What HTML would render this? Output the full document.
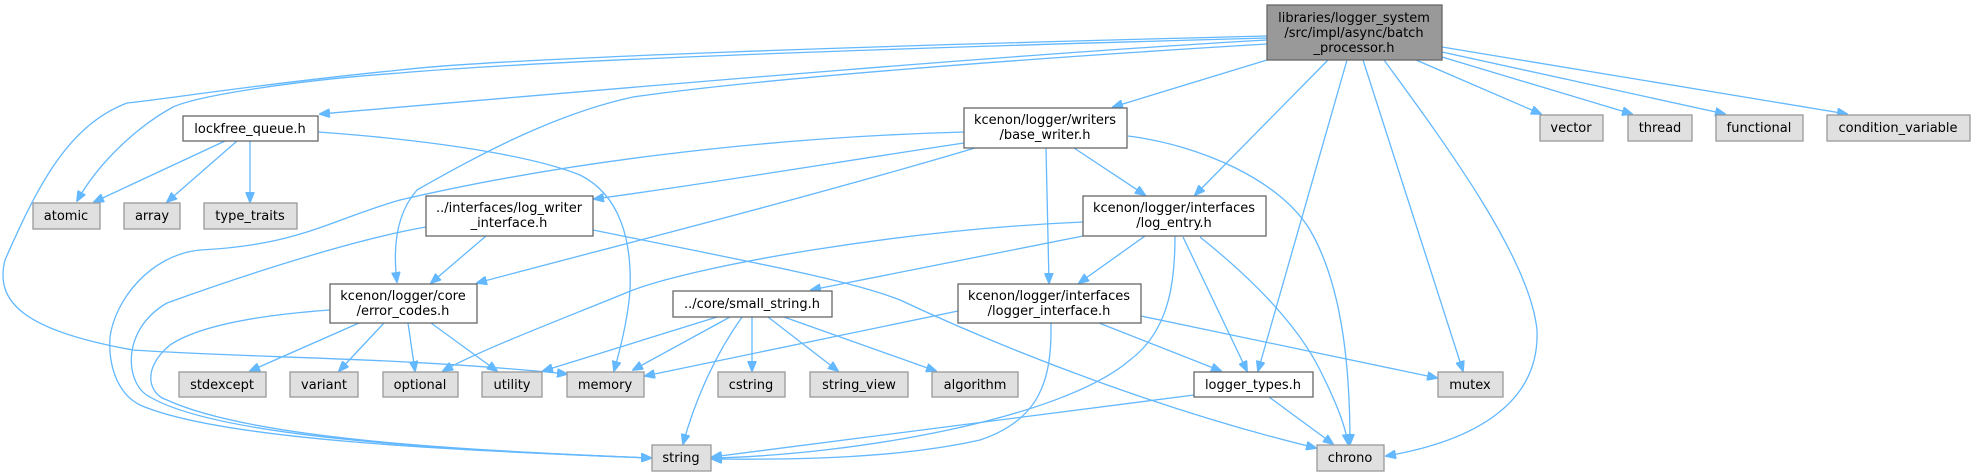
<!DOCTYPE html>
<html><head><meta charset="utf-8"><style>
html,body{margin:0;padding:0;background:#fff;}
svg{display:block;}
text{font-family:"DejaVu Sans","Liberation Sans",sans-serif;font-size:13px;fill:#000;text-anchor:middle;}
.e{fill:none;stroke:#63b8ff;stroke-width:1.3;}
.n{fill:#fff;stroke:#666;stroke-width:1.3;}
.g{fill:#e0e0e0;stroke:#999;stroke-width:1.3;}
.m{fill:#999;stroke:#666;stroke-width:1.3;}
</style></head><body>
<svg width="1976" height="476" viewBox="0 0 1976 476" xmlns="http://www.w3.org/2000/svg">
<defs><marker id="a" markerWidth="11" markerHeight="9" refX="10" refY="4.5" orient="auto" markerUnits="userSpaceOnUse"><path d="M0,0 L11,4.5 L0,9 z" fill="#63b8ff" stroke="#63b8ff"/></marker></defs>
<g marker-end="url(#a)">
<!-- main edges -->
<path class="e" d="M1267,36 C900,45 500,58 400,70 C250,85 160,100 127,103 C70,125 40,180 5,260 C-5,300 20,330 133,350 C250,358 400,357 567,374"/>
<path class="e" d="M1267,38 C900,48 550,60 400,73 C300,80 200,95 173,107 C140,125 100,160 77,201"/>
<path class="e" d="M1267,40 C1000,55 600,90 320,114"/>
<path class="e" d="M1267,44 C1000,60 750,80 633,97 C550,115 470,160 417,190 C395,215 393,250 397,282"/>
<path class="e" d="M1267,60 L1113,107"/>
<path class="e" d="M1328,60 L1195,195"/>
<path class="e" d="M1347,60 L1258,371"/>
<path class="e" d="M1363,60 L1463,371"/>
<path class="e" d="M1384,60 C1450,150 1530,260 1537,330 C1540,400 1480,440 1386,456"/>
<path class="e" d="M1416,60 L1541,114"/>
<path class="e" d="M1442,57 L1632,114"/>
<path class="e" d="M1442,52 L1725,114"/>
<path class="e" d="M1442,47 L1847,114"/>
<!-- lockfree -->
<path class="e" d="M225,141 L94,202"/>
<path class="e" d="M237,141 L167,202"/>
<path class="e" d="M250,141 L250,202"/>
<path class="e" d="M318,132 C430,140 530,155 580,175 C620,195 632,240 630,290 C628,320 620,350 614,371"/>
<!-- base_writer -->
<path class="e" d="M964,132 C750,138 550,165 400,200 C330,220 300,245 200,250 C150,255 115,300 110,337 C108,370 120,395 140,405 C220,440 450,450 651,458"/>
<path class="e" d="M964,143 C850,160 700,185 594,199"/>
<path class="e" d="M975,148 C800,200 600,250 477,283"/>
<path class="e" d="M1046,148 L1049,283"/>
<path class="e" d="M1074,148 L1145,195"/>
<path class="e" d="M1128,136 C1200,145 1280,180 1310,230 C1345,290 1350,380 1350,444"/>
<!-- log_writer_interface -->
<path class="e" d="M486,236 L431,283"/>
<path class="e" d="M426,227 C350,240 230,280 167,303 C120,330 125,385 150,397 C220,438 450,450 651,458"/>
<path class="e" d="M593,230 C750,262 850,280 900,300 C1050,370 1200,420 1316,448"/>
<!-- error_codes -->
<path class="e" d="M330,310 C260,315 200,325 170,345 C140,370 150,395 167,400 C250,438 450,450 651,458"/>
<path class="e" d="M359,323 L250,371"/>
<path class="e" d="M384,323 L339,371"/>
<path class="e" d="M408,323 L415,371"/>
<path class="e" d="M431,323 L497,371"/>
<!-- log_entry -->
<path class="e" d="M1083,222 C900,230 700,265 633,290 C560,320 480,350 443,371"/>
<path class="e" d="M1083,236 L811,290"/>
<path class="e" d="M1145,236 L1079,283"/>
<path class="e" d="M1175,236 C1175,280 1170,330 1130,360 C1060,420 850,455 712,458"/>
<path class="e" d="M1183,237 L1247,371"/>
<path class="e" d="M1200,237 C1260,285 1300,330 1320,370 C1340,410 1346,430 1348,444"/>
<!-- small_string -->
<path class="e" d="M717,317 L543,371"/>
<path class="e" d="M730,317 L633,370"/>
<path class="e" d="M742,317 C715,355 695,400 683,444"/>
<path class="e" d="M752,317 L752,371"/>
<path class="e" d="M768,317 L838,371"/>
<path class="e" d="M784,317 L936,371"/>
<!-- logger_interface -->
<path class="e" d="M958,311 L645,376"/>
<path class="e" d="M1051,323 C1052,380 1040,420 980,440 C900,458 800,460 712,459"/>
<path class="e" d="M1099,323 L1221,371"/>
<path class="e" d="M1141,316 L1437,378"/>
<!-- logger_types -->
<path class="e" d="M1194,395 L712,457"/>
<path class="e" d="M1269,397 L1333,444"/>
</g>
<!-- nodes -->
<rect class="m" x="1267" y="5" width="175" height="55"/>
<text x="1354" y="22">libraries/logger_system</text>
<text x="1354" y="37">/src/impl/async/batch</text>
<text x="1354" y="52">_processor.h</text>

<rect class="n" x="183" y="116" width="135" height="25"/><text x="250" y="133">lockfree_queue.h</text>
<rect class="g" x="33" y="203" width="67" height="26"/><text x="66" y="220">atomic</text>
<rect class="g" x="124" y="203" width="56" height="26"/><text x="152" y="220">array</text>
<rect class="g" x="204" y="203" width="93" height="26"/><text x="250" y="220">type_traits</text>

<rect class="n" x="426" y="196" width="167" height="40"/><text x="509" y="212">../interfaces/log_writer</text><text x="509" y="227">_interface.h</text>
<rect class="n" x="330" y="284" width="147" height="39"/><text x="403" y="300">kcenon/logger/core</text><text x="403" y="315">/error_codes.h</text>
<rect class="n" x="964" y="108" width="163" height="40"/><text x="1045" y="124">kcenon/logger/writers</text><text x="1045" y="139">/base_writer.h</text>
<rect class="n" x="1083" y="196" width="183" height="40"/><text x="1174" y="212">kcenon/logger/interfaces</text><text x="1174" y="227">/log_entry.h</text>
<rect class="n" x="673" y="291" width="159" height="26"/><text x="752" y="308">../core/small_string.h</text>
<rect class="n" x="958" y="284" width="183" height="39"/><text x="1049" y="300">kcenon/logger/interfaces</text><text x="1049" y="315">/logger_interface.h</text>

<rect class="g" x="179" y="372" width="87" height="25"/><text x="222" y="389">stdexcept</text>
<rect class="g" x="290" y="372" width="68" height="25"/><text x="324" y="389">variant</text>
<rect class="g" x="383" y="372" width="75" height="25"/><text x="420" y="389">optional</text>
<rect class="g" x="482" y="372" width="60" height="25"/><text x="512" y="389">utility</text>
<rect class="g" x="567" y="372" width="77" height="25"/><text x="605" y="389">memory</text>
<rect class="g" x="718" y="372" width="67" height="25"/><text x="751" y="389">cstring</text>
<rect class="g" x="810" y="372" width="98" height="25"/><text x="859" y="389">string_view</text>
<rect class="g" x="932" y="372" width="86" height="25"/><text x="975" y="389">algorithm</text>
<rect class="n" x="1194" y="372" width="119" height="25"/><text x="1253" y="389">logger_types.h</text>
<rect class="g" x="1438" y="372" width="65" height="25"/><text x="1470" y="389">mutex</text>

<rect class="g" x="652" y="445" width="59" height="26"/><text x="681" y="462">string</text>
<rect class="g" x="1317" y="445" width="67" height="26"/><text x="1350" y="462">chrono</text>

<rect class="g" x="1540" y="115" width="63" height="26"/><text x="1571" y="132">vector</text>
<rect class="g" x="1628" y="115" width="64" height="26"/><text x="1660" y="132">thread</text>
<rect class="g" x="1716" y="115" width="87" height="26"/><text x="1759" y="132">functional</text>
<rect class="g" x="1827" y="115" width="143" height="26"/><text x="1898" y="132">condition_variable</text>
</svg>
</body></html>
